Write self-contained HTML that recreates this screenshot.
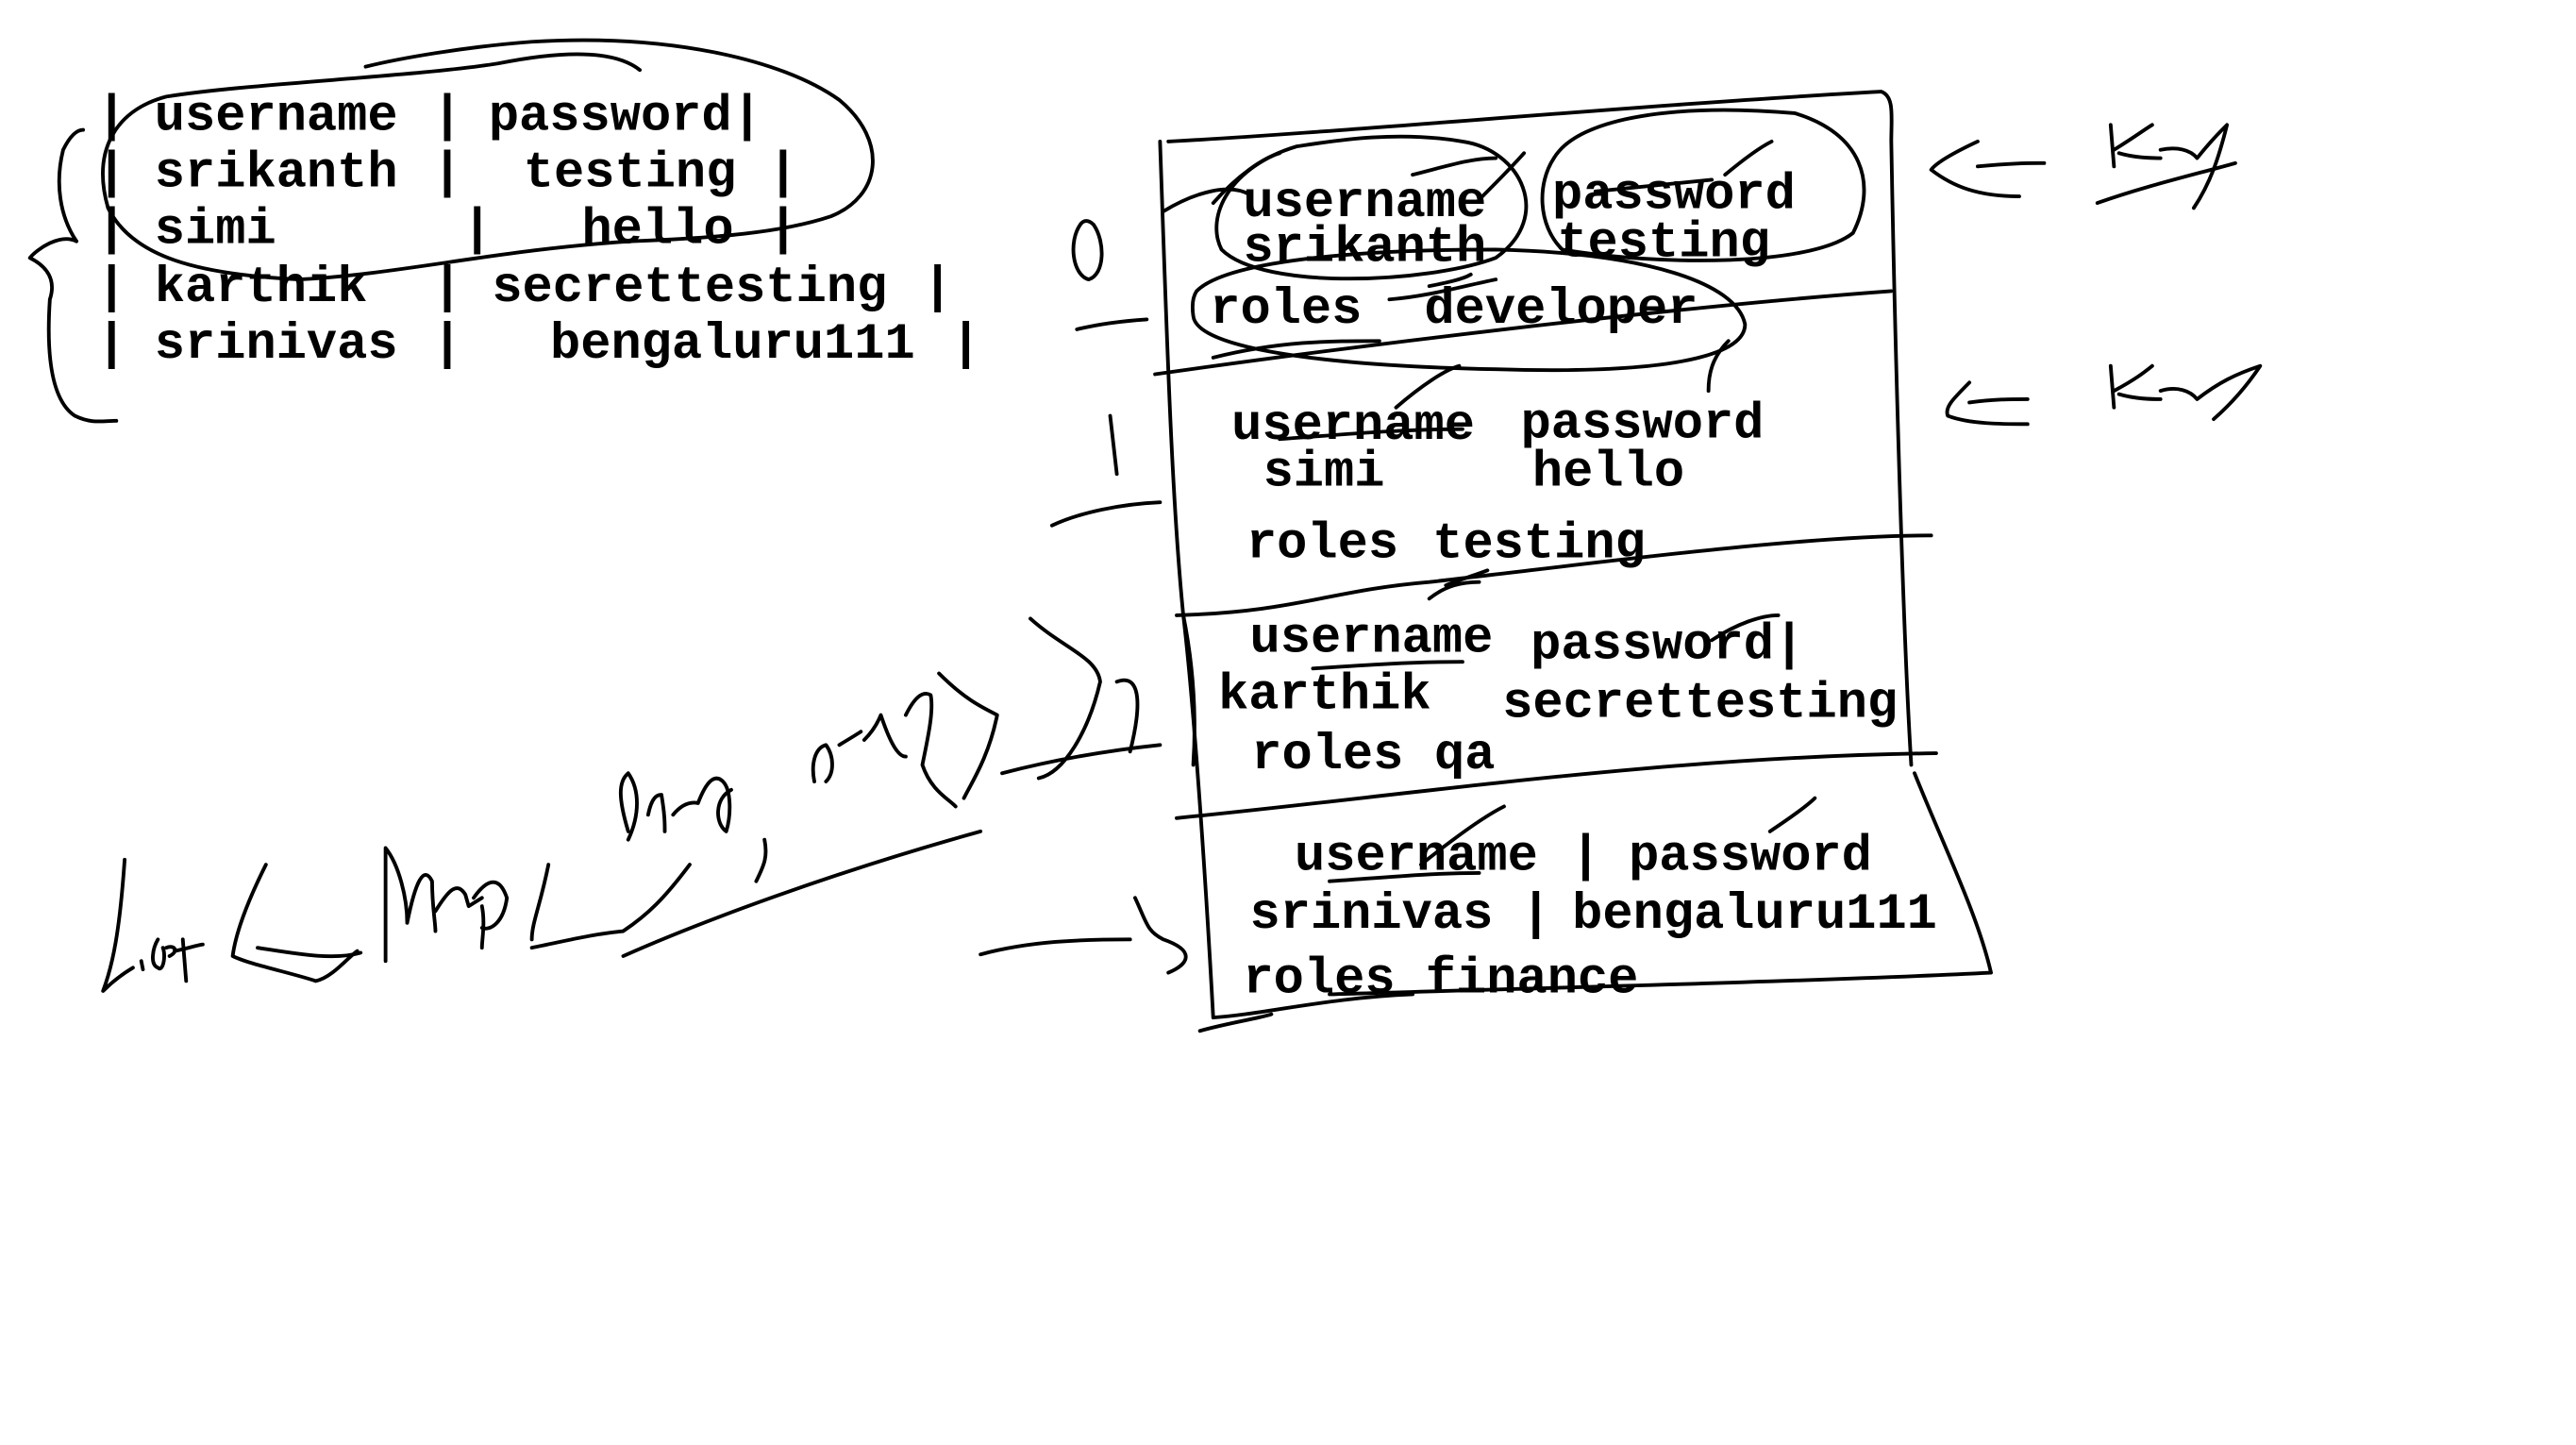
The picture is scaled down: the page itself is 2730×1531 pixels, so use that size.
<!DOCTYPE html>
<html><head><meta charset="utf-8"><style>
html,body{margin:0;padding:0;background:#fff;}
svg{display:block;}
text{font-family:"Liberation Mono",monospace;font-weight:bold;font-size:30.5px;fill:#000;}
path,line,ellipse{fill:none;stroke:#000;stroke-width:2.2;stroke-linecap:round;stroke-linejoin:round;}
</style></head><body>
<svg width="2730" height="1531" viewBox="0 0 1550 869" xmlns="http://www.w3.org/2000/svg">
<g>
<text x="58" y="78">|</text><text x="93" y="78">username</text><text x="260" y="78">|</text><text x="294" y="78">password|</text>
<text x="58" y="112">|</text><text x="93" y="112">srikanth</text><text x="260" y="112">|</text><text x="315" y="112">testing</text><text x="462" y="112">|</text>
<text x="58" y="146">|</text><text x="93" y="146">simi</text><text x="278" y="146">|</text><text x="350" y="146">hello</text><text x="462" y="146">|</text>
<text x="58" y="181">|</text><text x="93" y="181">karthik</text><text x="260" y="181">|</text><text x="296" y="181">secrettesting</text><text x="555" y="181">|</text>
<text x="58" y="215">|</text><text x="93" y="215">srinivas</text><text x="260" y="215">|</text><text x="331" y="215">bengaluru111</text><text x="572" y="215">|</text>
</g>
<path d="M385,42 C370,30 340,30 300,38 C250,46 150,50 100,58 C70,66 55,90 65,125 C80,155 120,165 180,168 C240,165 300,150 380,145 C430,143 470,140 500,130 C530,118 535,85 505,60 C470,35 400,20 320,25 C280,28 240,35 220,40"/>
<path d="M46,145 C36,140 22,150 18,155 C28,160 34,168 30,180 C28,210 30,240 45,250 C55,255 62,253 70,253"/>
<path d="M46,145 C36,130 33,110 38,90 C42,82 46,78 50,78"/>
<path d="M703,85 C800,80 1000,62 1132,55 C1140,58 1138,70 1138,85 C1140,200 1145,380 1150,460"/>
<path d="M698,85 C702,200 705,300 712,370 C718,420 725,520 730,612 C760,610 800,600 850,598"/>
<path d="M1152,465 C1170,510 1190,550 1198,585 C1100,590 900,595 800,598"/>
<path d="M722,620 C740,615 760,612 765,610"/>
<path d="M712,370 C718,400 720,430 718,460"/>
<path d="M695,225 C800,210 1000,185 1138,175"/>
<path d="M708,370 C780,368 800,355 860,350 C950,340 1080,322 1162,322"/>
<path d="M708,492 C850,478 1000,455 1165,453"/>
<path d="M780,88 C740,100 725,130 735,150 C760,175 860,170 900,155 C935,130 915,90 880,85 C840,78 800,85 780,88"/>
<path d="M935,95 C950,70 1010,62 1080,68 C1120,80 1130,110 1115,140 C1090,160 1000,160 940,150 C925,135 925,110 935,95"/>
<path d="M720,175 C740,155 830,150 900,150 C990,152 1045,170 1050,195 C1050,215 1000,225 900,222 C800,220 720,210 718,190 C717,183 718,178 720,175"/>
<path d="M1040,205 C1030,215 1028,225 1028,235"/>
<path d="M860,172 C870,170 880,168 885,165 M836,180 C860,178 880,172 900,168"/>
<path d="M890,120 C900,110 910,100 917,92 M850,105 C870,100 885,95 900,95"/>
<path d="M752,117 C740,110 720,115 700,127 M730,122 C745,105 760,95 770,92"/>
<path d="M1038,105 C1050,95 1060,88 1066,85 M960,115 C990,112 1010,110 1030,108"/>
<path d="M730,215 C770,205 800,205 830,205"/>
<path d="M840,245 C855,232 870,222 878,220 M770,264 C800,262 840,258 880,258"/>
<path d="M860,360 C870,352 880,350 890,350 M870,352 C880,348 890,345 895,343 M790,402 C820,400 850,398 880,398"/>
<path d="M1030,385 C1045,375 1060,370 1070,370"/>
<path d="M855,520 C880,500 895,490 905,485 M800,530 C830,528 860,525 890,525"/>
<path d="M1065,500 C1080,490 1088,484 1092,480"/>
<text x="748" y="130">username</text><text x="934" y="125">password</text>
<text x="748" y="157">srikanth</text><text x="937" y="154">testing</text>
<text x="728" y="194">roles</text><text x="857" y="194">developer</text>
<text x="741" y="264">username</text><text x="915" y="263">password</text>
<text x="760" y="292">simi</text><text x="922" y="292">hello</text>
<text x="750" y="335">roles</text><text x="862" y="335">testing</text>
<text x="752" y="392">username</text><text x="921" y="396">password|</text>
<text x="733" y="426">karthik</text><text x="904" y="431">secrettesting</text>
<text x="753" y="462">roles</text><text x="863" y="462">qa</text>
<text x="779" y="523">username</text><text x="945" y="523">|</text><text x="980" y="523">password</text>
<text x="752" y="558">srinivas</text><text x="915" y="558">|</text><text x="946" y="558">bengaluru111</text>
<text x="748" y="597">roles finance</text>
<path d="M650,135 C643,145 645,165 655,168 C665,165 665,145 658,135 C655,132 652,132 650,135"/>
<path d="M648,198 C660,195 675,193 690,192"/>
<path d="M668,250 L672,285"/>
<path d="M633,316 C650,308 675,303 698,302"/>
<path d="M620,372 C640,390 660,395 662,410 C655,440 640,465 625,468 M603,465 C630,458 660,452 698,448 M672,410 C685,405 688,420 680,452 M565,405 C580,420 590,425 600,430 C595,455 585,470 580,480"/>
<path d="M590,574 C620,566 650,565 680,565 M683,540 C690,555 690,560 700,565 C720,572 715,580 703,585"/>
<path d="M1190,85 C1175,92 1165,98 1162,102 C1175,112 1190,118 1215,118 M1190,100 C1210,98 1220,98 1230,98"/>
<path d="M1270,75 L1272,100 M1272,90 C1285,82 1290,78 1295,75 M1275,92 C1285,95 1295,95 1300,95 M1300,90 C1310,88 1318,90 1322,95 C1330,85 1335,80 1340,75 C1335,95 1330,110 1320,125 M1262,122 C1290,112 1320,105 1345,98"/>
<path d="M1185,230 C1175,240 1170,245 1172,250 C1185,255 1205,255 1220,255 M1185,242 C1200,240 1210,240 1220,240"/>
<path d="M1270,220 L1272,245 M1272,235 C1285,228 1290,224 1295,220 M1275,237 C1285,240 1295,240 1300,240 M1300,235 C1310,232 1318,235 1322,240 C1335,230 1345,225 1360,220 C1350,235 1340,245 1332,252"/>
<path d="M75,517 C72,560 68,580 62,596 C68,590 75,585 80,582 M85,578 L86,583 M95,565 C92,570 90,580 95,582 C98,585 100,575 98,570 M100,570 C105,568 108,572 102,575 M110,565 L112,590 M105,572 C115,570 120,568 122,568"/>
<path d="M160,520 C150,540 142,560 140,575 C150,580 175,585 190,590 C200,588 210,575 215,572 M155,570 C175,573 200,578 217,573"/>
<path d="M232,578 L232,510 C240,520 245,540 245,555 M245,555 C250,530 255,520 260,530 C260,545 262,555 262,560 M262,548 C270,535 275,530 280,538 L282,545 L290,540 M290,545 C292,555 290,565 290,570 M285,540 C292,530 300,525 305,540 C303,555 295,560 290,558"/>
<path d="M330,520 C325,545 320,555 320,565 M320,570 C340,566 355,562 375,560 M375,560 C390,550 400,540 415,520"/>
<path d="M378,500 C372,480 372,470 378,465 C385,475 385,490 378,505 M390,490 C392,480 395,478 398,478 C400,490 400,495 400,500 M405,490 C410,484 415,482 420,483 M420,483 C425,470 430,465 435,470 C440,475 440,490 437,500 C430,495 430,480 440,475"/>
<path d="M460,505 C462,515 460,520 455,530"/>
<path d="M490,470 C488,460 490,450 497,448 C502,455 502,465 497,470 M505,448 C510,445 515,442 518,440 M520,445 C525,440 528,435 530,430 C535,445 540,455 545,455 M545,430 C550,420 555,415 560,418 C562,428 558,445 555,460 C560,475 570,480 575,485"/>
<path d="M375,575 C420,555 500,525 590,500"/>
</svg>
</body></html>
